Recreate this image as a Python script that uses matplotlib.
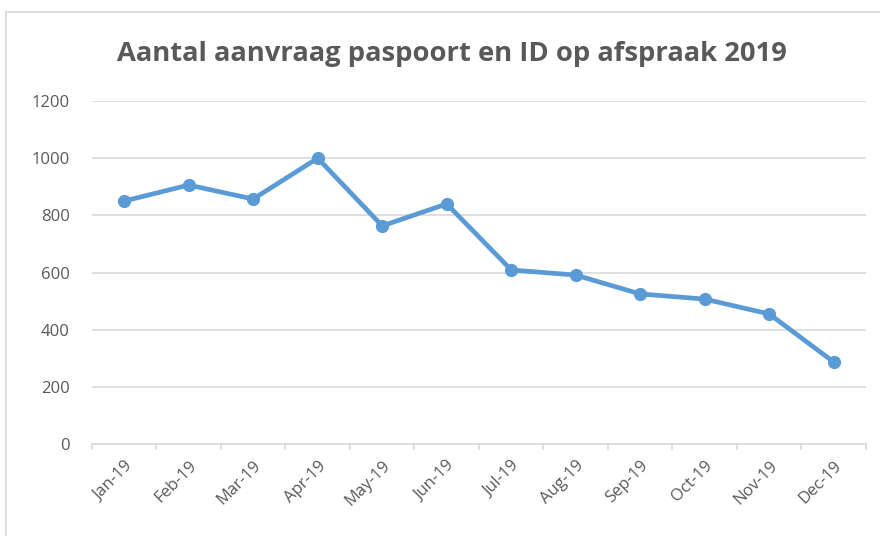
import matplotlib.pyplot as plt
from matplotlib.patches import Rectangle

months = ['Jan-19', 'Feb-19', 'Mar-19', 'Apr-19', 'May-19', 'Jun-19',
          'Jul-19', 'Aug-19', 'Sep-19', 'Oct-19', 'Nov-19', 'Dec-19']
aanvragen = [850, 906, 857, 1000, 763, 840, 609, 591, 525, 507, 455, 287]
y_ticks = [0, 200, 400, 600, 800, 1000, 1200]

plt.rcParams['font.family'] = ['Open Sans', 'DejaVu Sans']
grey = '#595959'
grid = '#D9D9D9'

fig = plt.figure(figsize=(8.8, 5.36), dpi=100)
ax = fig.add_axes([0.1045, 0.1716, 0.8795, 0.64])

# chart area border
fig.patches.append(Rectangle((0.007, -0.01), 1.2, 0.988, transform=fig.transFigure,
                             fill=False, edgecolor=grid, linewidth=1.2))

x = list(range(len(months)))
ax.plot(x, aanvragen, color='#5B9BD5', linewidth=3.4, marker='o',
        markersize=8.5, solid_capstyle='round', zorder=3)

ax.set_xlim(-0.5, len(months) - 0.5)
ax.set_ylim(0, 1200)
ax.set_yticks(y_ticks)
ax.set_yticklabels([str(v) for v in y_ticks])
ax.set_xticks(x)
ax.set_xticklabels(months, rotation=45, ha='right', rotation_mode='anchor')
ax.tick_params(axis='x', length=0, pad=10, colors=grey, labelsize=12)
ax.tick_params(axis='y', length=0, pad=16, colors=grey, labelsize=12)

# category boundary ticks
for b in range(len(months) + 1):
    ax.plot([b - 0.5, b - 0.5], [0, -18], color=grid, linewidth=1.2,
            clip_on=False, zorder=2)

ax.grid(axis='y', color=grid, linewidth=1.2)
ax.set_axisbelow(True)
for s in ['top', 'right', 'left']:
    ax.spines[s].set_visible(False)
ax.spines['bottom'].set_color(grid)
ax.spines['bottom'].set_linewidth(1.2)

fig.text(0.514, 0.9, 'Aantal aanvraag paspoort en ID op afspraak 2019',
         ha='center', va='center', fontsize=19.7, fontweight='bold', color=grey)

fig.savefig('out.png', dpi=100)
